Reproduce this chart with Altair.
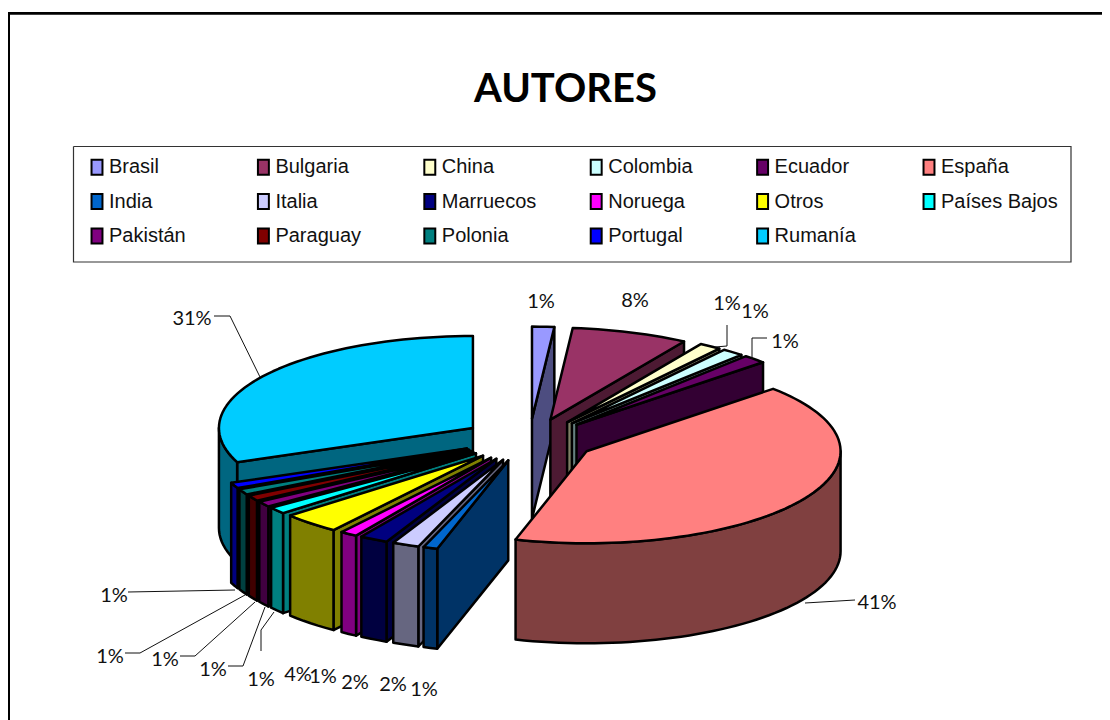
import math
import altair as alt

CATEGORIES = ["Brasil", "Bulgaria", "China", "Colombia", "Ecuador", "España", "India", "Italia", "Marruecos",
              "Noruega", "Otros", "Países Bajos", "Pakistán", "Paraguay", "Polonia", "Portugal", "Rumanía"]
VALUES = [1.4, 7.4, 1.4, 1.4, 1.5, 41.3, 0.9, 1.7, 1.8, 1.1, 3.7, 1.2, 1.0, 1.0, 1.0, 1.0, 31.0]
LABELS = ["1%", "8%", "1%", "1%", "1%", "41%", "1%", "2%", "2%", "1%", "4%", "1%", "1%", "1%", "1%", "1%", "31%"]
TOP_COLORS = ["#9999FF", "#993366", "#FFFFCC", "#CCFFFF", "#660066", "#FF8080", "#0066CC", "#CCCCFF", "#000080",
              "#FF00FF", "#FFFF00", "#00FFFF", "#800080", "#800000", "#008080", "#0000FF", "#00CCFF"]
SIDE_COLORS = ["#4D4D80", "#4D1A33", "#808066", "#668080", "#330033", "#804040", "#003366", "#666680", "#000040",
               "#800080", "#808000", "#008080", "#400040", "#400000", "#004040", "#000080", "#006680"]

# label layout, in page pixels
LABEL_POS = [(541, 302), (635, 301), (727, 304), (755, 312), (785, 342), (877, 603), (424, 690), (393, 685),
             (355, 683), (323, 677), (298, 675), (261, 680), (213, 670), (165, 660), (110, 657), (114, 596),
             (192, 319)]
LEADERS = [[(214, 316), (230, 316), (260, 377)], [(855, 600), (805, 603)],
           [(727, 325), (727, 346), (715, 347)], [(767, 338), (752, 338), (752, 359)],
           [(128, 592), (235, 590)], [(125, 653), (140, 653), (245, 595)], [(180, 656), (195, 656), (255, 602)],
           [(228, 666), (243, 666), (265, 607)], [(261, 651), (261, 630), (274, 612)]]

W, H = 1094, 712
OFF = 8
CX, CY = 529, 440
RX, RY, DEPTH = 254, 92, 100
EX, EY = 67.7, 21.4


def pg(p):
    return [p[0] - OFF, p[1] - OFF]


def feature(kind, coords, fill="none"):
    return {"type": "Feature", "properties": {"fill": fill}, "geometry": {"type": kind, "coordinates": coords}}


def polygon(points, fill):
    pts = [pg(p) for p in points]
    return feature("Polygon", [pts + [pts[0]]], fill)


def line(points):
    return feature("LineString", [pg(p) for p in points])


slices = []
cum = 0.0
total = sum(VALUES)
for v, top, side in zip(VALUES, TOP_COLORS, SIDE_COLORS):
    a0, a1 = cum / total * 360, (cum + v) / total * 360
    cum += v
    mid = math.radians((a0 + a1) / 2)
    slices.append((-math.cos(mid), a0, a1, mid, top, side))

faces = []
for _, a0, a1, mid, top, side in sorted(slices, key=lambda s: s[0]):
    ax, ay = CX + EX * math.sin(mid), CY - EY * math.cos(mid)

    def rim(deg, dy=0.0):
        r = math.radians(deg)
        return (ax + RX * math.sin(r), ay - RY * math.cos(r) + dy)

    n = max(2, int((a1 - a0) / 2) + 1)
    degs = [a0 + (a1 - a0) * i / n for i in range(n + 1)]
    if math.sin(math.radians(a0)) < 0:
        faces.append(polygon([(ax, ay), rim(a0), rim(a0, DEPTH), (ax, ay + DEPTH)], side))
    if math.sin(math.radians(a1)) > 0:
        faces.append(polygon([(ax, ay), rim(a1), rim(a1, DEPTH), (ax, ay + DEPTH)], side))
    lo, hi = max(a0, 90), min(a1, 270)
    if hi > lo:
        m = max(2, int((hi - lo) / 2))
        front = [lo + (hi - lo) * i / m for i in range(m + 1)]
        faces.append(polygon([rim(d) for d in front] + [rim(d, DEPTH) for d in reversed(front)], side))
    faces.append(polygon([(ax, ay)] + [rim(d) for d in degs], top))

PROJ = dict(type="identity", scale=1, translate=[0, 0])

faces_layer = alt.Chart(alt.Data(values=faces)).mark_geoshape(stroke="black", strokeWidth=2.5, strokeJoin="round").encode(
    fill=alt.Fill("properties.fill:N", scale=None, legend=None)
).project(**PROJ)

leader_layer = alt.Chart(alt.Data(values=[line(l) for l in LEADERS])).mark_geoshape(
    filled=False, stroke="#111111", strokeWidth=1).project(**PROJ)

box = [(73.5, 146.5), (1071, 146.5), (1071, 262), (73.5, 262), (73.5, 146.5)]
box_layer = alt.Chart(alt.Data(values=[line(box)])).mark_geoshape(
    filled=False, stroke="#333333", strokeWidth=1.2).project(**PROJ)

frame = [(8.6, 760), (8.6, 13.3), (1130, 13.3)]
frame_layer = alt.Chart(alt.Data(values=[line(frame)])).mark_geoshape(
    filled=False, stroke="black", strokeWidth=2.8).project(**PROJ)

label_rows = [{"label": t, "lon": p[0] - OFF, "lat": p[1] - OFF} for t, p in zip(LABELS, LABEL_POS)]
label_layer = alt.Chart(alt.Data(values=label_rows)).mark_text(
    font="Lato", fontSize=20, color="#111111", align="center", baseline="middle").encode(
    longitude="lon:Q", latitude="lat:Q", text="label:N").project(**PROJ)

title_layer = alt.Chart(alt.Data(values=[{"t": "AUTORES", "lon": 565.5 - OFF, "lat": 90 - OFF}])).mark_text(
    font="Lato", fontSize=40, fontWeight="bold", color="black", align="center", baseline="middle").encode(
    longitude="lon:Q", latitude="lat:Q", text="t:N").project(**PROJ)

legend_rows = [{"cat": c} for c in CATEGORIES]
legend_layer = alt.Chart(alt.Data(values=legend_rows)).mark_point(filled=True, size=0, opacity=1).encode(
    x=alt.value(-50), y=alt.value(-50),
    color=alt.Color("cat:N", sort=CATEGORIES,
                    scale=alt.Scale(domain=CATEGORIES, range=TOP_COLORS),
                    legend=alt.Legend(title=None, orient="none", legendX=79, legendY=149, columns=6,
                                      direction="horizontal",
                                      gridAlign="all", columnPadding=27.4, rowPadding=10.5, padding=0,
                                      symbolType="M-0.73,-1H0.73V1H-0.73Z", symbolSize=225,
                                      symbolStrokeColor="black", symbolStrokeWidth=2, symbolOpacity=1,
                                      labelFont="Liberation Sans", labelFontSize=20, labelColor="#111111",
                                      labelOffset=2, labelLimit=200)),
)

chart = alt.layer(legend_layer, frame_layer, box_layer, faces_layer, leader_layer, label_layer, title_layer).properties(
    width=W, height=H, padding=0, autosize=alt.AutoSizeParams(type="none"), background="white"
).configure_view(stroke=None)

chart.save("out.html", embed_options={"renderer": "svg", "actions": False})
